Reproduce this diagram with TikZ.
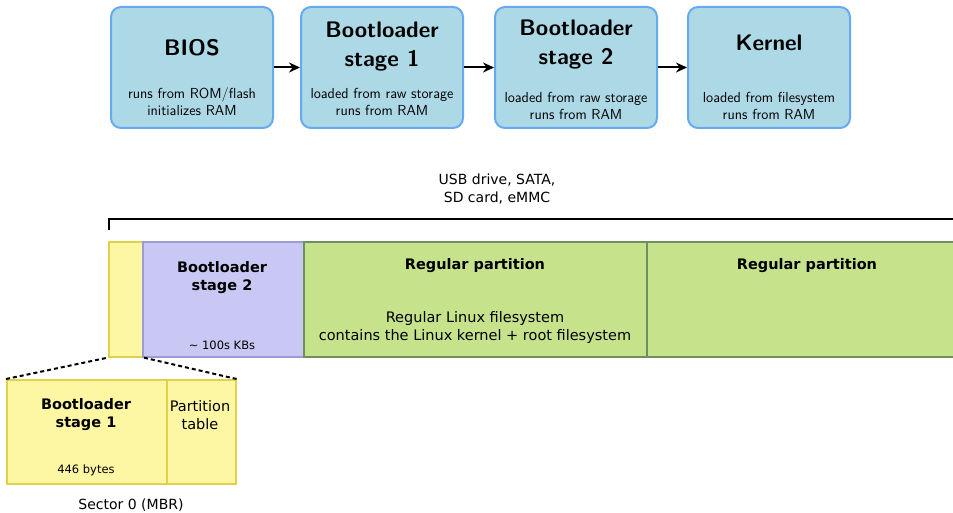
\documentclass[tikz,border=0pt]{standalone}
\usepackage{fontspec}
\newfontfamily\dejavu{DejaVu Sans}
\usetikzlibrary{arrows.meta}
\definecolor{topfill}{HTML}{ADD8E6}
\definecolor{topdraw}{HTML}{66AAF2}
\definecolor{yelfill}{HTML}{FDF6A3}
\definecolor{yeldraw}{HTML}{E0D04A}
\definecolor{purfill}{HTML}{C9C7F3}
\definecolor{purdraw}{HTML}{9D9BD3}
\definecolor{grnfill}{HTML}{C6E38C}
\definecolor{grndraw}{HTML}{6F8F5E}
\tikzset{
  topbox/.style={draw=topdraw, fill=topfill, line width=2pt, rounded corners=10pt,
    minimum width=162pt, minimum height=121pt, inner sep=0pt},
  toptitle/.style={font=\sffamily\bfseries\fontsize{22.5}{29}\selectfont, align=center, inner sep=0pt},
  topsub/.style={font=\sffamily\fontsize{14.5}{17}\selectfont, align=center, inner sep=0pt},
  flow/.style={line width=2pt, -{Stealth[length=11pt,width=10pt]}},
  seg/.style={line width=1.6pt, inner sep=0pt, anchor=north west},
  btitle/.style={font=\dejavu\bfseries\fontsize{14.5}{18}\selectfont, align=center, inner sep=0pt},
  btext/.style={font=\dejavu\fontsize{14.5}{18}\selectfont, align=center, inner sep=0pt},
  bsmall/.style={font=\dejavu\fontsize{11.5}{13}\selectfont, align=center, inner sep=0pt},
  blabel/.style={font=\dejavu\fontsize{14}{18}\selectfont, align=center, inner sep=0pt},
}
\begin{document}
\begin{tikzpicture}[x=1pt,y=-1pt]
\clip (0,0) rectangle (953,513);
\fill[white] (0,0) rectangle (953,513);

% top boxes
\node[topbox] (bios) at (192,67.5) {};
\node[topbox] (bl1) at (382,67.5) {};
\node[topbox] (bl2) at (576,67.5) {};
\node[topbox] (kern) at (769,67.5) {};

\node[toptitle] (biost) at (192,48) {BIOS};
\node[topsub] (bioss) at (192,101.5) {runs from ROM/flash\\initializes RAM};
\node[toptitle] (bl1t) at (382,46.5) {Bootloader\\stage 1};
\node[topsub] (bl1s) at (382,101.5) {loaded from raw storage\\runs from RAM};
\node[toptitle] (bl2t) at (576,44.5) {Bootloader\\stage 2};
\node[topsub] (bl2s) at (576,105.5) {loaded from raw storage\\runs from RAM};
\node[toptitle] (kernt) at (769,43) {Kernel};
\node[topsub] (kerns) at (769,105.5) {loaded from filesystem\\runs from RAM};

\draw[flow] (bios) -- (bl1);
\draw[flow] (bl1) -- (bl2);
\draw[flow] (bl2) -- (kern);

% storage label and bracket
\node[blabel] (usb) at (497,189) {USB drive, SATA,\\SD card, eMMC};
\coordinate (brl) at (109,230);
\coordinate (brt) at (109,219);
\coordinate (brr) at (965,219);
\draw[line width=2pt] (brl) -- (brt) -- (brr);

% storage bar
\node[seg, draw=yeldraw, fill=yelfill, minimum width=34pt, minimum height=115pt] (yel) at (108,241) {};
\node[seg, draw=purdraw, fill=purfill, minimum width=161pt, minimum height=115pt] (pur) at (142,241) {};
\node[seg, draw=grndraw, fill=grnfill, minimum width=343pt, minimum height=115pt] (grn1) at (303,241) {};
\node[seg, draw=grndraw, fill=grnfill, minimum width=340pt, minimum height=115pt] (grn2) at (646,241) {};

\node[btitle] (purt) at (222,278) {Bootloader\\stage 2};
\node[bsmall] (purs) at (222,345) {\textasciitilde\ 100s KBs};
\node[btitle] (g1t) at (475,266) {Regular partition};
\node[btext] (g1s) at (475,327) {Regular Linux filesystem\\contains the Linux kernel + root filesystem};
\node[btitle] (g2t) at (807,266) {Regular partition};

% MBR detail
\node[seg, draw=yeldraw, fill=yelfill, minimum width=160pt, minimum height=104pt] (mbra) at (6,379) {};
\node[seg, draw=yeldraw, fill=yelfill, minimum width=69pt, minimum height=104pt] (mbrb) at (166,379) {};
\draw[line width=2pt, dash pattern=on 4pt off 3pt] (mbra.north west) -- (yel.south west);
\draw[line width=2pt, dash pattern=on 4pt off 3pt] (mbrb.north east) -- (yel.south east);

\node[btitle] (mbrat) at (86,415) {Bootloader\\stage 1};
\node[bsmall] (mbras) at (86,470) {446 bytes};
\node[btext] (mbrbt) at (200,415) {Partition\\table};
\node[blabel] (sect) at (131,505) {Sector 0 (MBR)};
\end{tikzpicture}
\end{document}
